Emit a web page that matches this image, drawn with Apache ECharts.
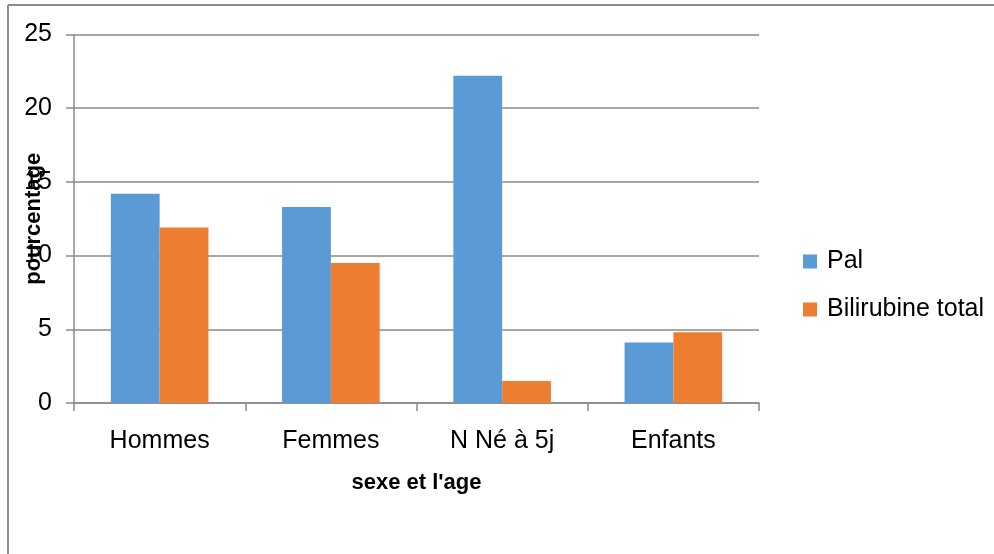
<!DOCTYPE html>
<html>
<head>
<meta charset="utf-8">
<script src="https://cdn.jsdelivr.net/npm/echarts@6/dist/echarts.min.js"></script>
<style>
  html, body { margin: 0; padding: 0; background: #fff; }
  #chart { width: 994px; height: 554px; }
</style>
</head>
<body>
<div id="chart"></div>
<script>
// Categories and series values
const categories = ['Hommes', 'Femmes', 'N Né à 5j', 'Enfants'];
const palValues = [14.2, 13.3, 22.2, 4.1];
const bilirubineValues = [11.9, 9.5, 1.5, 4.8];
const seriesNames = ['Pal', 'Bilirubine total'];
const yTicks = [0, 5, 10, 15, 20, 25];

const FONT = '"Liberation Sans", Arial, sans-serif';
const GRID_GREY = '#8a8a8a';

const chart = echarts.init(document.getElementById('chart'), null, { renderer: 'canvas' });

chart.setOption({
  backgroundColor: '#ffffff',
  animation: false,
  textStyle: { fontFamily: FONT, color: '#000' },
  graphic: [
    // chart frame (top and left edges)
    { type: 'line', shape: { x1: 8, y1: 5, x2: 994, y2: 5 }, style: { stroke: '#8c8c8c', lineWidth: 2 } },
    { type: 'line', shape: { x1: 8, y1: 5, x2: 8, y2: 554 }, style: { stroke: '#8c8c8c', lineWidth: 2 } }
  ],
  grid: { left: 74, right: 235, top: 34.5, bottom: 151, containLabel: false, outerBoundsMode: 'none' },
  legend: {
    orient: 'vertical',
    left: 798,
    top: 244,
    itemWidth: 14,
    itemHeight: 14,
    itemGap: 23,
    icon: 'rect',
    data: seriesNames,
    textStyle: { fontFamily: FONT, fontSize: 25, lineHeight: 25, color: '#000', padding: [0, 0, 0, 5] }
  },
  xAxis: {
    type: 'category',
    data: categories,
    name: "sexe et l'age",
    nameLocation: 'middle',
    nameGap: 69,
    nameMoveOverlap: false,
    nameTextStyle: { fontFamily: FONT, fontSize: 22, fontWeight: 'bold', color: '#000' },
    axisLine: { lineStyle: { color: GRID_GREY, width: 1.5 } },
    axisTick: { show: true, length: 8, lineStyle: { color: GRID_GREY, width: 1.5 } },
    axisLabel: { fontFamily: FONT, fontSize: 25, color: '#000', margin: 26 }
  },
  yAxis: {
    type: 'value',
    min: yTicks[0],
    max: yTicks[yTicks.length - 1],
    interval: 5,
    name: 'pourcentage',
    nameLocation: 'middle',
    nameGap: 29,
    nameRotate: 90,
    nameMoveOverlap: false,
    nameTextStyle: { fontFamily: FONT, fontSize: 22, fontWeight: 'bold', color: '#000' },
    axisLine: { show: true, lineStyle: { color: GRID_GREY, width: 1.5 } },
    axisTick: { show: true, length: 8, lineStyle: { color: GRID_GREY, width: 1.5 } },
    axisLabel: { fontFamily: FONT, fontSize: 25, color: '#000', margin: 22 },
    splitLine: { show: true, lineStyle: { color: GRID_GREY, width: 1.5 } }
  },
  series: [
    {
      name: seriesNames[0],
      type: 'bar',
      data: palValues,
      itemStyle: { color: '#5B9BD5' },
      barGap: '0%',
      barCategoryGap: '43%'
    },
    {
      name: seriesNames[1],
      type: 'bar',
      data: bilirubineValues,
      itemStyle: { color: '#ED7D31' },
      barGap: '0%',
      barCategoryGap: '43%'
    }
  ]
});
</script>
</body>
</html>
